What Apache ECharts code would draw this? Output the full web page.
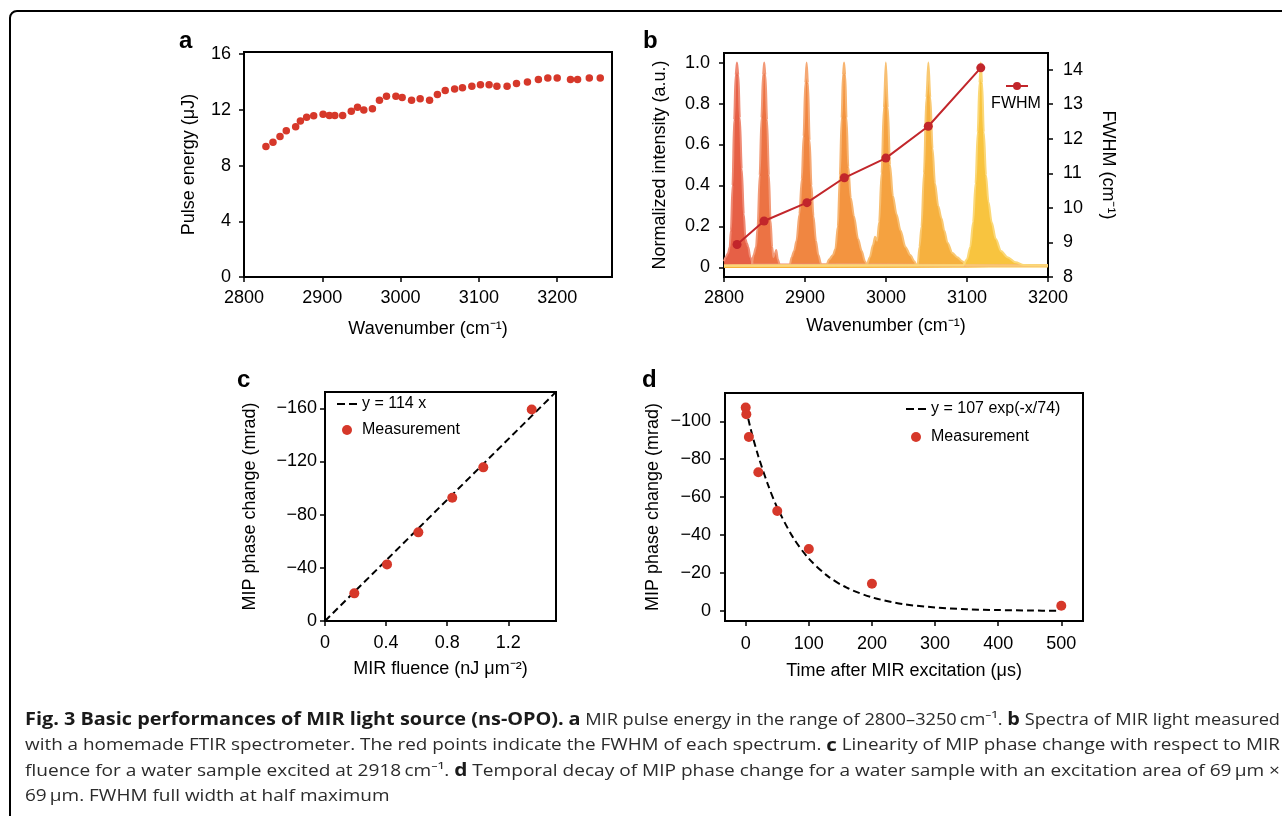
<!DOCTYPE html>
<html>
<head>
<meta charset="utf-8">
<script src="https://cdn.jsdelivr.net/npm/echarts/dist/echarts.min.js"></script>
<style>
  html, body { margin: 0; padding: 0; background: #fff; }
  #main { width: 1282px; height: 816px; }
</style>
</head>
<body>
<div id="main"></div>
<script>
// panel a: pulse energy
const aWavenumber = [2828, 2837, 2846, 2854, 2866, 2872, 2880, 2889, 2901, 2909, 2916, 2926, 2937, 2945, 2953,
  2964, 2973, 2982, 2994, 3002, 3014, 3025, 3037, 3047, 3057, 3069, 3079, 3091, 3102, 3113, 3123, 3136, 3148,
  3162, 3176, 3188, 3200, 3217, 3226, 3241, 3255];
const aEnergy = [9.37, 9.68, 10.08, 10.49, 10.78, 11.19, 11.47, 11.57, 11.69, 11.59, 11.59, 11.59, 11.9, 12.19, 11.98,
  12.07, 12.69, 12.98, 12.98, 12.89, 12.69, 12.79, 12.69, 13.1, 13.39, 13.49, 13.58, 13.7, 13.8, 13.8, 13.7, 13.7, 13.89,
  13.99, 14.18, 14.28, 14.28, 14.18, 14.18, 14.28, 14.28];
const aXTicks = [2800, 2900, 3000, 3100, 3200];
const aYTicks = [0, 4, 8, 12, 16];

// panel b: spectra + FWHM
const spectrum1 = [[2800, 0.03], [2802, 0.05], [2805, 0.07], [2807, 0.1], [2808.5, 0.18], [2810.5, 0.4], [2812.5, 0.72],
  [2814.3, 0.94], [2816, 1.0], [2817.8, 0.94], [2819.6, 0.73], [2822, 0.48], [2824.5, 0.26], [2826.5, 0.14], [2828, 0.12],
  [2830, 0.1], [2832.5, 0.05], [2836, 0.015], [3200, 0.008]];
const spectrum2 = [[2800, 0.008], [2834, 0.01], [2836.5, 0.06], [2839.5, 0.1], [2841.5, 0.2], [2844, 0.45], [2846.2, 0.73],
  [2848.1, 0.94], [2849.6, 1.0], [2851.2, 0.94], [2853.2, 0.72], [2855.5, 0.45], [2857.5, 0.23], [2859.5, 0.1], [2861, 0.05],
  [2863, 0.07], [2864.5, 0.085], [2866.5, 0.04], [2869, 0.01], [3200, 0.008]];
const spectrum3 = [[2800, 0.008], [2881, 0.01], [2883.5, 0.05], [2886.5, 0.08], [2889.5, 0.13], [2893, 0.26], [2896, 0.43],
  [2898.2, 0.64], [2900.3, 0.9], [2902, 1.0], [2903.7, 0.9], [2905.8, 0.62], [2908, 0.4], [2910.5, 0.25], [2913.5, 0.13],
  [2916.5, 0.06], [2920, 0.015], [3200, 0.008]];
const spectrum4 = [[2800, 0.008], [2926, 0.01], [2930, 0.04], [2934.5, 0.06], [2937.5, 0.09], [2940.5, 0.2], [2943, 0.45],
  [2945.2, 0.73], [2946.8, 0.94], [2948.2, 1.0], [2949.7, 0.94], [2951.3, 0.73], [2953.5, 0.49], [2956.5, 0.34], [2960.5, 0.25],
  [2965.5, 0.14], [2970, 0.08], [2974, 0.03], [2977, 0.01], [3200, 0.008]];
const spectrum5 = [[2800, 0.008], [2976, 0.01], [2980, 0.05], [2984, 0.11], [2986.5, 0.15], [2989, 0.13], [2991.5, 0.22],
  [2994.5, 0.46], [2997.3, 0.78], [2999.8, 1.0], [3002.3, 0.78], [3005, 0.5], [3008.5, 0.35], [3013, 0.26], [3018, 0.18],
  [3024, 0.1], [3030, 0.06], [3035, 0.03], [3038, 0.01], [3200, 0.008]];
const spectrum6 = [[2800, 0.008], [3039, 0.01], [3041.3, 0.1], [3043.8, 0.2], [3046.8, 0.46], [3049.8, 0.83], [3052.3, 1.0],
  [3054.8, 0.83], [3057.5, 0.58], [3060.5, 0.41], [3064.5, 0.3], [3068.5, 0.24], [3072, 0.18], [3076, 0.12], [3082, 0.07],
  [3088, 0.05], [3094, 0.03], [3099, 0.01], [3200, 0.008]];
const spectrum7 = [[2800, 0.008], [3095, 0.01], [3100, 0.04], [3104, 0.1], [3107.5, 0.22], [3110.5, 0.41], [3113.2, 0.66],
  [3115.3, 0.9], [3117, 1.0], [3118.7, 0.9], [3120.8, 0.66], [3123.5, 0.45], [3126.5, 0.32], [3130.5, 0.22], [3135.5, 0.14],
  [3142, 0.08], [3150, 0.05], [3160, 0.025], [3170, 0.012], [3200, 0.01]];
const bSpectra = [spectrum1, spectrum2, spectrum3, spectrum4, spectrum5, spectrum6, spectrum7];
const bColors = ['#e5573c', '#eb6c3a', '#ef7f37', '#f28e36', '#f49d36', '#f6ad35', '#f8c135'];
const bEdges = ['#ef8a74', '#f29a78', '#f5a874', '#f7b471', '#f8bf72', '#f9c972', '#fbd877'];
const bPeakCenters = [2816.1, 2849.5, 2902.4, 2948.6, 2999.8, 3052.2, 3117.0];
const bFwhm = [8.94, 9.62, 10.15, 10.87, 11.44, 12.36, 14.05];
const bXTicks = [2800, 2900, 3000, 3100, 3200];
const bYTicks = [0, 0.2, 0.4, 0.6, 0.8, 1.0];
const bFwhmTicks = [8, 9, 10, 11, 12, 13, 14];

// panel c: linearity
const cFluence = [0.192, 0.406, 0.611, 0.833, 1.036, 1.353];
const cPhase = [-20.8, -42.6, -66.7, -92.8, -115.6, -159.2];
const cFitX = [0, 1.512];
const cFitY = [0, -172.4];
const cXTicks = [0, 0.4, 0.8, 1.2];
const cYTicks = [0, -40, -80, -120, -160];

// panel d: temporal decay
const dTime = [0, 1, 5, 20, 50, 100, 200, 500];
const dPhase = [-107.2, -103.7, -91.7, -73.1, -52.7, -32.7, -14.4, -2.8];
const dFitTime = [4, 10, 20, 35, 50, 75, 100, 130, 160, 200, 250, 300, 350, 400, 450, 495];
const dFitPhase = [-101.4, -93.2, -81.6, -66.8, -54.5, -38.8, -27.6, -18.4, -12.3, -7.2, -3.6, -1.9, -0.9, -0.5, -0.25, -0.13];
const dXTicks = [0, 100, 200, 300, 400, 500];
const dYTicks = [0, -20, -40, -60, -80, -100];

const FONT = '"Liberation Sans", Arial, Helvetica, sans-serif';
const CAP_FONT = '"Open Sans", "Noto Sans", sans-serif';
const RED = '#d6382a';
const plain = v => String(v);
const minus = v => (v === 0 ? '0' : (v < 0 ? '\u2212' + Math.abs(v) : String(v)));
const oneDec = v => (v === 0 ? '0' : v.toFixed(1));
const pairs = (xs, ys) => xs.map((x, i) => [x, ys[i]]);
const dashIcon = 'path://M0,0h8v2.2h-8zM12,0h8v2.2h-8z';

function valueAxis(o) {
  return Object.assign({
    type: 'value',
    nameLocation: 'middle',
    nameTextStyle: { color: '#000', fontSize: 18, fontFamily: FONT },
    axisLine: { show: true, onZero: false, lineStyle: { color: '#000', width: 2 } },
    axisTick: { show: true, length: 5, lineStyle: { color: '#000', width: 1.5 }, customValues: o.ticks },
    axisLabel: { color: '#000', fontSize: 18, fontFamily: FONT, margin: o.margin, customValues: o.ticks, formatter: o.fmt || plain },
    splitLine: { show: false }
  }, o.extra);
}

const gridBase = { show: true, borderColor: '#000', borderWidth: 2, backgroundColor: 'transparent' };

// caption
const captionLines = [
  [['Fig. 3 Basic performances of MIR light source (ns-OPO).', 1], [' ', 0], ['a', 1],
   [' MIR pulse energy in the range of 2800\u20133250\u2009cm\u207B\u00B9. ', 0], ['b', 1], [' Spectra of MIR light measured', 0]],
  [['with a homemade FTIR spectrometer. The red points indicate the FWHM of each spectrum. ', 0], ['c', 1],
   [' Linearity of MIP phase change with respect to MIR', 0]],
  [['fluence for a water sample excited at 2918\u2009cm\u207B\u00B9. ', 0], ['d', 1],
   [' Temporal decay of MIP phase change for a water sample with an excitation area of 69\u2009\u03BCm \u00D7', 0]],
  [['69\u2009\u03BCm. FWHM full width at half maximum', 0]]
];
const captionY = [720, 745.5, 771, 796.5];
const CAP_BOLD = 18;
const CAP_NORM = 16.5;
const ctx = document.createElement('canvas').getContext('2d');
function lineWidth(segs) {
  let w = 0;
  segs.forEach(s => {
    ctx.font = (s[1] ? 'bold ' + CAP_BOLD : CAP_NORM) + 'px ' + CAP_FONT;
    w += ctx.measureText(s[0]).width;
  });
  return w;
}
const capScales = captionLines.map((segs, i) => (i < 3 ? 1255 / lineWidth(segs) : null));
const avgScale = (capScales[1] + capScales[2]) / 2;
const captionGraphics = captionLines.map((segs, i) => ({
  type: 'text',
  x: 25, y: captionY[i],
  scaleX: capScales[i] || avgScale,
  style: {
    text: segs.map(s => '{' + (s[1] ? 'b' : 'n') + '|' + s[0] + '}').join(''),
    rich: {
      b: { fontWeight: 'bold', fontSize: CAP_BOLD, fontFamily: CAP_FONT, fill: '#1a1a1a' },
      n: { fontSize: CAP_NORM, fontFamily: CAP_FONT, fill: '#2b2b2b' }
    },
    verticalAlign: 'middle'
  }
}));

const panelLabel = (t, x, y) => ({
  type: 'text', x: x, y: y,
  style: { text: t, fontSize: 24, fontWeight: 'bold', fontFamily: FONT, fill: '#000', verticalAlign: 'middle' }
});

const spectraSeries = bSpectra.map((d, i) => ({
  type: 'line', xAxisIndex: 1, yAxisIndex: 1, data: d,
  showSymbol: false, symbol: 'none', smooth: 0.3, smoothMonotone: 'x', silent: true, z: 2,
  lineStyle: { color: bEdges[i], width: 2 },
  areaStyle: { color: bColors[i], opacity: 0.95 }
}));

const option = {
  animation: false,
  textStyle: { fontFamily: FONT, color: '#000' },
  grid: [
    Object.assign({ left: 244, top: 52, width: 368, height: 225 }, gridBase),
    Object.assign({ left: 724, top: 53, width: 324, height: 224 }, gridBase),
    Object.assign({ left: 325, top: 392, width: 231, height: 229 }, gridBase),
    Object.assign({ left: 725, top: 393, width: 358, height: 228 }, gridBase)
  ],
  xAxis: [
    valueAxis({ ticks: aXTicks, margin: 12, extra: { gridIndex: 0, min: 2800, max: 3270, name: 'Wavenumber (cm\u207B\u00B9)', nameGap: 43 } }),
    valueAxis({ ticks: bXTicks, margin: 12, extra: { gridIndex: 1, min: 2800, max: 3200, name: 'Wavenumber (cm\u207B\u00B9)', nameGap: 40 } }),
    valueAxis({ ticks: cXTicks, margin: 13, fmt: oneDec,
      extra: { gridIndex: 2, min: 0, max: 1.512, name: 'MIR fluence (nJ \u03BCm\u207B\u00B2)', nameGap: 39 } }),
    valueAxis({ ticks: dXTicks, margin: 14, extra: { gridIndex: 3, min: -32.8, max: 534.4, name: 'Time after MIR excitation (\u03BCs)', nameGap: 41 } })
  ],
  yAxis: [
    valueAxis({ ticks: aYTicks, margin: 13, extra: { gridIndex: 0, min: 0, max: 16.15, name: 'Pulse energy (\u03BCJ)', nameGap: 46 } }),
    valueAxis({ ticks: bYTicks, margin: 14, fmt: oneDec,
      extra: { gridIndex: 1, position: 'left', min: -0.047, max: 1.047, name: 'Normalized intensity (a.u.)', nameGap: 55 } }),
    valueAxis({ ticks: bFwhmTicks, margin: 15,
      extra: { gridIndex: 1, position: 'right', min: 8, max: 14.48, name: 'FWHM (cm\u207B\u00B9)', nameGap: 51, nameRotate: -90 } }),
    valueAxis({ ticks: cYTicks, margin: 8, fmt: minus,
      extra: { gridIndex: 2, min: -172.3, max: 0, inverse: true, name: 'MIP phase change (mrad)', nameGap: 66 } }),
    valueAxis({ ticks: dYTicks, margin: 14, fmt: minus,
      extra: { gridIndex: 3, min: -114.9, max: 5.27, inverse: true, name: 'MIP phase change (mrad)', nameGap: 63 } })
  ],
  legend: [
    { data: [{ name: 'y = 114 x', icon: dashIcon }, { name: 'Measurement', icon: 'circle' }], left: 337, top: 394,
      orient: 'vertical', itemWidth: 20, itemHeight: 10, itemGap: 6, padding: 0, selectedMode: false,
      textStyle: { fontSize: 16, lineHeight: 20, color: '#000', fontFamily: FONT } },
    { data: [{ name: 'y = 107 exp(-x/74)', icon: dashIcon }, { name: 'Measurement', icon: 'circle' }], left: 906, top: 399,
      orient: 'vertical', itemWidth: 20, itemHeight: 10, itemGap: 8, padding: 0, selectedMode: false,
      textStyle: { fontSize: 16, lineHeight: 20, color: '#000', fontFamily: FONT } },
    { data: ['FWHM'], left: 1005, top: 81, itemWidth: 22, itemHeight: 10, padding: 0, selectedMode: false,
      formatter: () => ' ', textStyle: { fontSize: 10 } }
  ],
  series: [
    { type: 'scatter', xAxisIndex: 0, yAxisIndex: 0, data: pairs(aWavenumber, aEnergy), symbolSize: 7.5,
      itemStyle: { color: RED, opacity: 1 } },
    ...spectraSeries,
    { type: 'line', name: 'FWHM', xAxisIndex: 1, yAxisIndex: 2, data: pairs(bPeakCenters, bFwhm), symbol: 'circle',
      symbolSize: 9, z: 5, lineStyle: { color: '#c2262b', width: 2 }, itemStyle: { color: '#c2262b' } },
    { type: 'line', name: 'y = 114 x', xAxisIndex: 2, yAxisIndex: 3, data: pairs(cFitX, cFitY), symbol: 'none',
      lineStyle: { color: '#000', width: 2, type: [7, 4] }, itemStyle: { color: '#000' } },
    { type: 'scatter', name: 'Measurement', xAxisIndex: 2, yAxisIndex: 3, data: pairs(cFluence, cPhase), symbolSize: 10,
      itemStyle: { color: RED, opacity: 1 }, z: 4 },
    { type: 'line', name: 'y = 107 exp(-x/74)', xAxisIndex: 3, yAxisIndex: 4, data: pairs(dFitTime, dFitPhase),
      symbol: 'none', smooth: 0.3, lineStyle: { color: '#000', width: 2, type: [7, 4] }, itemStyle: { color: '#000' } },
    { type: 'scatter', name: 'Measurement', xAxisIndex: 3, yAxisIndex: 4, data: pairs(dTime, dPhase), symbolSize: 10,
      itemStyle: { color: RED, opacity: 1 }, z: 4 }
  ],
  graphic: [
    { type: 'rect', z: -1, shape: { x: 10, y: 11, width: 1400, height: 900, r: 7 },
      style: { fill: 'none', stroke: '#000', lineWidth: 2 } },
    panelLabel('a', 179, 41),
    panelLabel('b', 643, 41),
    panelLabel('c', 237, 380),
    panelLabel('d', 642, 380),
    { type: 'text', x: 1016, y: 104, style: { text: 'FWHM', fontSize: 16, fontFamily: FONT, fill: '#000', align: 'center', verticalAlign: 'middle' } },
    ...captionGraphics
  ]
};

const chart = echarts.init(document.getElementById('main'));
chart.setOption(option);
</script>
</body>
</html>
